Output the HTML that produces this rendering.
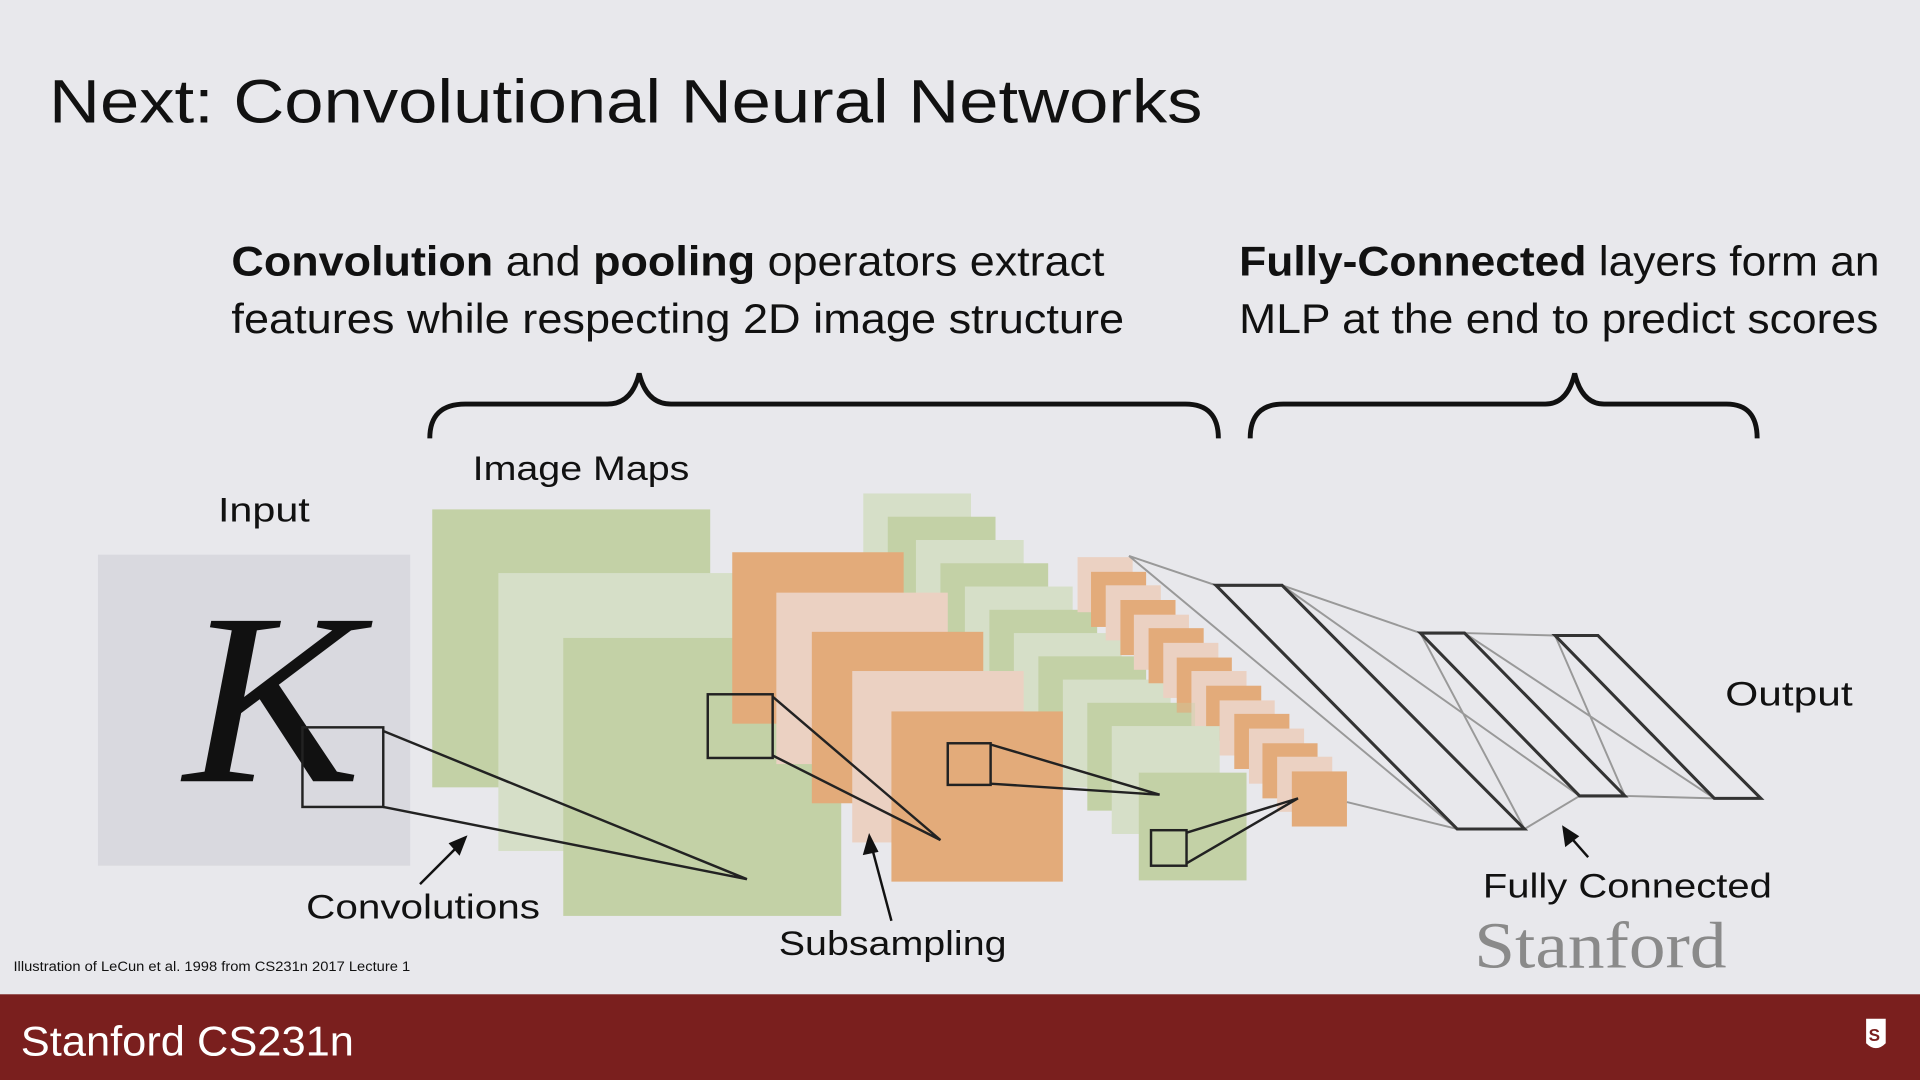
<!DOCTYPE html>
<html><head><meta charset="utf-8"><style>
html,body{margin:0;padding:0;background:#e8e8ec;}
svg{display:block;}
.s{font-family:"Liberation Sans",sans-serif;}
.r{font-family:"Liberation Serif",serif;}
</style></head><body>
<svg width="1920" height="1080" viewBox="0 0 1568 882" xmlns="http://www.w3.org/2000/svg">
<rect width="1568" height="882" fill="#e8e8ec"/>
<text class="s" x="40" y="100" font-size="50" fill="#111" textLength="942" lengthAdjust="spacingAndGlyphs">Next: Convolutional Neural Networks</text>
<text class="s" x="189" y="225" font-size="34" fill="#111" textLength="713" lengthAdjust="spacingAndGlyphs"><tspan font-weight="bold">Convolution</tspan> and <tspan font-weight="bold">pooling</tspan> operators extract</text>
<text class="s" x="189" y="272" font-size="34" fill="#111" textLength="729" lengthAdjust="spacingAndGlyphs">features while respecting 2D image structure</text>
<text class="s" x="1012" y="225" font-size="34" fill="#111" textLength="523" lengthAdjust="spacingAndGlyphs"><tspan font-weight="bold">Fully-Connected</tspan> layers form an</text>
<text class="s" x="1012" y="272" font-size="34" fill="#111" textLength="522" lengthAdjust="spacingAndGlyphs">MLP at the end to predict scores</text>
<g fill="none" stroke="#111" stroke-width="4">
<path d="M351,358 Q351,330 380,330 L496,330 Q516,330 522,305 Q528,330 548,330 L968,330 Q995,330 995,358"/>
<path d="M1021,358 Q1021,330 1048,330 L1262,330 Q1280,330 1286,305 Q1292,330 1310,330 L1410,330 Q1435,330 1435,358"/>
</g>
<text class="s" x="386" y="392" font-size="28" fill="#111" textLength="177" lengthAdjust="spacingAndGlyphs">Image Maps</text>
<text class="s" x="178" y="426" font-size="28" fill="#111" textLength="75" lengthAdjust="spacingAndGlyphs">Input</text>
<rect x="80" y="453" width="255" height="254" fill="#d9d9df"/>
<text class="r" x="150" y="638" font-style="italic" font-size="200" fill="#111" textLength="145" lengthAdjust="spacingAndGlyphs">K</text>
<rect x="353" y="416" width="227" height="227" fill="#c3d1a6"/>
<rect x="407" y="468" width="226" height="227" fill="#d6dfc8"/>
<rect x="460" y="521" width="227" height="227" fill="#c3d1a6"/>
<g>
<rect x="705" y="403" width="88" height="88" fill="#d6dfc8"/>
<rect x="725" y="422" width="88" height="88" fill="#c3d1a6"/>
<rect x="748" y="441" width="88" height="88" fill="#d6dfc8"/>
<rect x="768" y="460" width="88" height="88" fill="#c3d1a6"/>
<rect x="788" y="479" width="88" height="88" fill="#d6dfc8"/>
<rect x="808" y="498" width="88" height="88" fill="#c3d1a6"/>
<rect x="828" y="517" width="88" height="88" fill="#d6dfc8"/>
<rect x="848" y="536" width="88" height="88" fill="#c3d1a6"/>
<rect x="868" y="555" width="88" height="88" fill="#d6dfc8"/>
<rect x="888" y="574" width="88" height="88" fill="#c3d1a6"/>
<rect x="908" y="593" width="88" height="88" fill="#d6dfc8"/>
</g>
<rect x="598" y="451" width="140" height="140" fill="#e3ab7a"/>
<rect x="634" y="484" width="140" height="140" fill="#ebd1c2"/>
<rect x="663" y="516" width="140" height="140" fill="#e3ab7a"/>
<rect x="696" y="548" width="140" height="140" fill="#ebd1c2"/>
<rect x="728" y="581" width="140" height="139" fill="#e3ab7a"/>
<g>
<rect x="880" y="455" width="45" height="45" fill="#ebd1c2"/>
<rect x="891" y="467" width="45" height="45" fill="#e3ab7a"/>
<rect x="903" y="478" width="45" height="45" fill="#ebd1c2"/>
<rect x="915" y="490" width="45" height="45" fill="#e3ab7a"/>
<rect x="926" y="502" width="45" height="45" fill="#ebd1c2"/>
<rect x="938" y="513" width="45" height="45" fill="#e3ab7a"/>
<rect x="950" y="525" width="45" height="45" fill="#ebd1c2"/>
<rect x="961" y="537" width="45" height="45" fill="#e3ab7a"/>
<rect x="973" y="548" width="45" height="45" fill="#ebd1c2"/>
<rect x="985" y="560" width="45" height="45" fill="#e3ab7a"/>
<rect x="996" y="572" width="45" height="45" fill="#ebd1c2"/>
<rect x="1008" y="583" width="45" height="45" fill="#e3ab7a"/>
<rect x="1020" y="595" width="45" height="45" fill="#ebd1c2"/>
<rect x="1031" y="607" width="45" height="45" fill="#e3ab7a"/>
<rect x="1043" y="618" width="45" height="45" fill="#ebd1c2"/>
<rect x="1055" y="630" width="45" height="45" fill="#e3ab7a"/>
</g>
<rect x="888" y="574" width="88" height="88" fill="#c3d1a6" opacity="0.35"/>
<rect x="908" y="593" width="88" height="88" fill="#d6dfc8"/>
<rect x="930" y="631" width="88" height="88" fill="#c3d1a6"/>
<g fill="none" stroke="#222" stroke-width="2">
<rect x="247" y="594" width="66" height="65"/>
<path d="M313,597 L610,718 L313,659"/>
<rect x="578" y="567" width="53" height="52"/>
<path d="M631,569 L768,686 L631,617"/>
<rect x="774" y="607" width="35" height="34"/>
<path d="M809,608 L947,649 L809,640"/>
<rect x="940" y="678" width="29" height="29"/>
<path d="M969,680 L1060,652 L969,705"/>
</g>
<g fill="none" stroke="#999" stroke-width="1.6">
<path d="M922,454 L993,478 M922,454 L1190,677 M1100,655 L1190,677 M993,478 L1190,677"/>
<path d="M1047,478 L1160,517 M1047,478 L1290,650 M1245,677 L1290,650 M1160,517 L1245,677"/>
<path d="M1196,517 L1270,519 M1196,517 L1400,652 M1327,650 L1400,652 M1270,519 L1327,650"/>
</g>
<g fill="none" stroke="#333" stroke-width="2.5">
<path d="M993,478 L1047,478 L1245,677 L1190,677 Z"/>
<path d="M1160,517 L1196,517 L1327,650 L1290,650 Z"/>
<path d="M1270,519 L1305,519 L1438,652 L1400,652 Z"/>
</g>
<g stroke="#111" stroke-width="2" fill="#111">
<line x1="343" y1="722" x2="375" y2="690"/><polygon points="380,684 368,689 375,697"/>
<line x1="728" y1="752" x2="712" y2="692"/><polygon points="710,683 706,697 716,695"/>
<line x1="1297" y1="700" x2="1282" y2="683"/><polygon points="1277,676 1279,690 1288,683"/>
</g>
<text class="s" x="250" y="750" font-size="28" fill="#111" textLength="191" lengthAdjust="spacingAndGlyphs">Convolutions</text>
<text class="s" x="636" y="780" font-size="28" fill="#111" textLength="186" lengthAdjust="spacingAndGlyphs">Subsampling</text>
<text class="s" x="1409" y="576" font-size="28" fill="#111" textLength="104" lengthAdjust="spacingAndGlyphs">Output</text>
<text class="s" x="1211" y="733" font-size="28" fill="#111" textLength="236" lengthAdjust="spacingAndGlyphs">Fully Connected</text>
<text class="r" x="1204" y="790" font-size="54" fill="#8a8a8a" textLength="206" lengthAdjust="spacingAndGlyphs">Stanford</text>
<text class="s" x="11" y="793" font-size="11" fill="#111" textLength="324" lengthAdjust="spacingAndGlyphs">Illustration of LeCun et al. 1998 from CS231n 2017 Lecture 1</text>
<rect x="0" y="812" width="1568" height="70" fill="#7a1f1e"/>
<text class="s" x="17" y="862" font-size="34" fill="#fff" textLength="272" lengthAdjust="spacingAndGlyphs">Stanford CS231n</text>
<path d="M1524,832 L1540,832 L1540,852 Q1532,860 1524,852 Z" fill="#fff"/>
<text class="s" x="1526" y="850" font-size="14" font-weight="bold" fill="#7a1f1e">S</text>
</svg>
</body></html>
